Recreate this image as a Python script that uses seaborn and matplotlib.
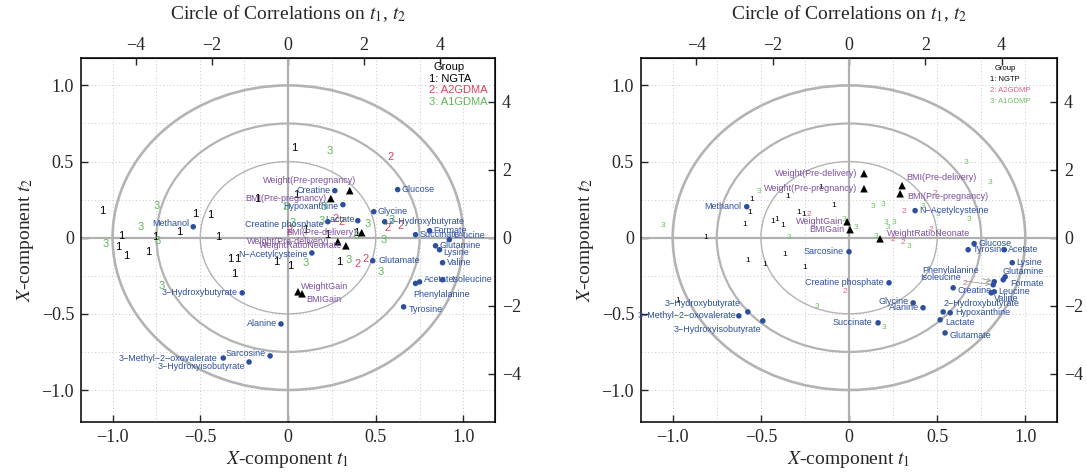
import numpy as np
import pandas as pd
import matplotlib
matplotlib.use("Agg")
import matplotlib.pyplot as plt
from matplotlib.patches import Circle
import seaborn as sns

# ---------------- data : left panel (GDMA) ----------------
left_met_names = ["Methanol", "Creatine phosphate", "Creatine", "Hypoxanthine", "Glucose", "Glycine",
                  "Lactate", "2\u2212Hydroxybutyrate", "Formate", "Succinate", "Leucine", "Glutamine",
                  "Lysine", "Valine", "Isoleucine", "Acetate", "Phenylalanine", "Tyrosine", "Glutamate",
                  "N\u2212Acetylcysteine", "3\u2212Hydroxybutyrate", "Alanine", "Sarcosine",
                  "3\u2212Methyl\u22122\u2212oxovalerate", "3\u2212Hydroxyisobutyrate"]
left_met_x = [-0.540, 0.227, 0.267, 0.313, 0.625, 0.489, 0.398, 0.551, 0.807, 0.727, 0.920, 0.841,
              0.864, 0.881, 0.881, 0.750, 0.727, 0.659, 0.483, 0.136, -0.261, -0.040, -0.102, -0.369, -0.222]
left_met_y = [0.072, 0.105, 0.309, 0.217, 0.316, 0.171, 0.112, 0.105, 0.046, 0.020, -0.013, -0.053,
              -0.079, -0.164, -0.276, -0.290, -0.300, -0.454, -0.151, -0.100, -0.362, -0.566, -0.776,
              -0.790, -0.816]
left_trait_names = ["Weight(Pre-pregnancy)", "BMI(Pre-pregnancy)", "BMI(Pre-delivery)",
                    "Weight(Pre-delivery)", "WeightRatioNeonate", "WeightGain", "BMIGain"]
left_trait_x = [0.352, 0.244, 0.420, 0.284, 0.330, 0.057, 0.080]
left_trait_y = [0.309, 0.257, 0.033, -0.026, -0.053, -0.355, -0.368]
left_g1_x = [-4.89, -2.45, -2.05, -2.87, -4.39, -4.47, -4.26, -3.50, -3.68, -1.84, 0.16, 0.21, -0.32,
             -1.53, -1.34, -1.42, 0.05, 0.45, 1.03, 1.79, 1.34, -0.82]
left_g1_y = [0.80, 0.71, 0.68, 0.18, 0.06, -0.27, -0.53, 0.03, -0.41, 0.03, 2.63, 1.27, -0.71,
             -0.62, -0.62, -1.06, -0.83, 0.24, 0.09, 0.15, -0.71, 1.15]
left_g2_x = [2.71, 0.05, 1.24, 1.42, 2.61, 2.97, 1.82, 2.05]
left_g2_y = [2.36, 0.24, 0.56, 0.47, 0.30, 0.35, -0.77, -0.62]
left_g3_x = [-3.47, -3.89, -4.79, -3.42, -0.05, 0.13, 1.11, 0.95, 0.89, 2.11, 2.74, 1.82, 2.53, 0.47,
             1.61, 2.45, -3.32]
left_g3_y = [0.92, 0.32, -0.18, -0.09, 0.89, 0.44, 2.54, 0.89, 0.50, 0.41, 0.53, 0.06, -0.06, -0.74,
             -0.65, -1.00, -1.42]
left_groups = ["1: NGTA", "2: A2GDMA", "3: A1GDMA"]

# ---------------- data : right panel (GDMP) ----------------
right_met_names = ["Methanol", "3\u2212Hydroxybutyrate", "3\u2212Methyl\u22122\u2212oxovalerate",
                   "3\u2212Hydroxyisobutyrate", "Sarcosine", "Creatine phosphate", "Glycine", "Alanine",
                   "Succinate", "2\u2212Hydroxybutyrate", "Hypoxanthine", "Lactate", "Glutamate",
                   "Creatine", "Leucine", "Valine", "Glutamine", "Formate", "Phenylalanine",
                   "Isoleucine", "Glucose", "Tyrosine", "Acetate", "Lysine", "N\u2212Acetylcysteine"]
right_met_x = [-0.580, -0.574, -0.625, -0.489, 0.000, 0.227, 0.364, 0.420, 0.165, 0.534, 0.574, 0.517,
               0.545, 0.591, 0.824, 0.807, 0.886, 0.875, 0.824, 0.818, 0.710, 0.676, 0.881, 0.926, 0.375]
right_met_y = [0.204, -0.487, -0.513, -0.546, -0.092, -0.296, -0.428, -0.460, -0.559, -0.487, -0.493,
               -0.539, -0.625, -0.329, -0.355, -0.362, -0.257, -0.276, -0.289, -0.309, -0.039, -0.079,
               -0.079, -0.164, 0.178]
right_trait_names = ["Weight(Pre-delivery)", "Weight(Pre-pregnancy)", "BMI(Pre-delivery)",
                     "BMI(Pre-pregnancy)", "WeightGain", "BMIGain", "WeightRatioNeonate"]
right_trait_x = [0.085, 0.085, 0.301, 0.290, -0.011, 0.006, 0.176]
right_trait_y = [0.421, 0.322, 0.342, 0.289, 0.105, 0.053, -0.007]
right_g1_x = [-2.56, -2.59, -2.74, -3.75, -1.61, -2.01, -1.90, -1.74, -1.32, -1.19, -0.40, -0.74,
              -2.66, -2.22, -1.69, -1.16, -4.49]
right_g1_y = [1.12, 0.74, 0.38, 0.00, 1.21, 0.47, 0.53, 0.35, 0.74, 0.68, 0.94, 1.47, -0.68, -0.80,
              -0.50, -0.88, -1.86]
right_g2_x = [-1.06, -0.11, 1.45, 1.16, 1.40, 2.14, 2.24, 3.03]
right_g2_y = [0.68, -1.59, 0.77, -0.06, -0.15, 0.24, 1.30, -1.36]
right_g3_x = [-4.88, -2.35, -1.56, -0.84, 3.06, 3.69, 0.63, 0.90, 1.95, 2.32, 3.14, 0.98, 1.19, 1.03,
              -0.13, 0.18, 0.71, 1.56, 2.35, 0.92]
right_g3_y = [0.35, 1.36, 0.00, -2.01, 2.21, 1.62, 0.91, 0.97, 0.91, 0.68, 0.53, 0.44, 0.44, 0.29,
              0.53, 0.29, 0.03, -0.27, 0.15, -2.63]
right_groups = ["1: NGTP", "2: A2GDMP", "3: A1GDMP"]

x_ticks = [-1.0, -0.5, 0, 0.5, 1.0]
y_ticks = [-1.0, -0.5, 0, 0.5, 1.0]
t_ticks = [-4, -2, 0, 2, 4]
circle_radii = [1.0, 0.75, 0.5]

# ---------------- style ----------------
KX, KY = 4.62, 4.48   # score units per correlation unit
BLUE, PURPLE = "#2c4f9e", "#7b4e9f"
SANS = "Liberation Sans"

left_met_off = {
    "Methanol": (-3, 2, "right"), "Creatine phosphate": (-3, -2, "right"), "Creatine": (-3, 0, "right"),
    "Hypoxanthine": (-3, -1, "right"), "Lactate": (-2, 1, "right"), "Leucine": (3, 3, "left"),
    "Lysine": (3, -2, "left"), "Isoleucine": (6, 0, "left"), "Acetate": (3, 2, "left"),
    "Phenylalanine": (-2, -8, "left"), "Tyrosine": (4, -2, "left"), "Glutamate": (4, 0, "left"),
    "N\u2212Acetylcysteine": (-3, -1, "right"), "3\u2212Hydroxybutyrate": (-3, 0, "right"),
    "Alanine": (-3, 0, "right"), "Sarcosine": (-3, 2, "right"),
    "3\u2212Methyl\u22122\u2212oxovalerate": (-4, 0, "right"), "3\u2212Hydroxyisobutyrate": (-3, -3, "right"),
}
left_trait_off = {
    "Weight(Pre-pregnancy)": (5, 7, "right"), "BMI(Pre-pregnancy)": (-3, 0, "right"),
    "BMI(Pre-delivery)": (-4, 0, "right"), "Weight(Pre-delivery)": (-6, 0, "right"),
    "WeightRatioNeonate": (-3, 0, "right"), "WeightGain": (2, 4, "left"), "BMIGain": (3, -4, "left"),
}
right_met_off = {
    "Methanol": (-4, 0, "right"), "3\u2212Hydroxybutyrate": (-5, 6, "right"),
    "3\u2212Methyl\u22122\u2212oxovalerate": (-2, 0, "right"), "3\u2212Hydroxyisobutyrate": (-1, -6, "right"),
    "Sarcosine": (-4, 0, "right"), "Creatine phosphate": (-4, 0, "right"), "Glycine": (-3, 1, "right"),
    "Alanine": (-3, 0, "right"), "Succinate": (-4, 0, "right"), "2\u2212Hydroxybutyrate": (0, 6, "left"),
    "Hypoxanthine": (4, 0, "left"), "Lactate": (4, -2, "left"), "Glutamate": (3, -2, "left"),
    "Creatine": (3, -2, "left"), "Leucine": (3, 0, "left"), "Valine": (2, -4, "left"),
    "Glutamine": (-2, 4, "left"), "Formate": (5, -3, "left"),
}
right_arrow_off = {"Phenylalanine": (-11, 8), "Isoleucine": (-23, 5)}
right_trait_off = {
    "Weight(Pre-delivery)": (-5, 0, "right"), "Weight(Pre-pregnancy)": (-5, 0, "right"),
    "BMI(Pre-delivery)": (3, 6, "left"), "BMI(Pre-pregnancy)": (5, -2, "left"),
    "WeightGain": (-3, 0, "right"), "BMIGain": (-4, 0, "right"), "WeightRatioNeonate": (5, 4, "left"),
}

sns.set_style("ticks")
plt.rcParams["font.family"] = ["Liberation Serif", "DejaVu Serif"]
plt.rcParams["mathtext.fontset"] = "stix"
plt.rcParams["axes.unicode_minus"] = True

fig = plt.figure(figsize=(10.87, 4.75), dpi=100)


def fmt(v):
    return "0" if v == 0 else ("%.1f" % v).replace("-", "\u2212")


def draw_panel(rect, met_n, met_x, met_y, met_off, tr_n, tr_x, tr_y, tr_off,
               groups_xy, group_names, colors, num_fs, leg_fs, leg_x, leg_y, leg_dy, arrow_off=None):
    ax = fig.add_axes(rect)
    ax.set_xlim(-1.18, 1.18)
    ax.set_ylim(-1.21, 1.18)
    # grid
    ax.set_xticks(np.arange(-1.0, 1.01, 0.25), minor=True)
    ax.set_yticks(np.arange(-1.0, 1.01, 0.25), minor=True)
    ax.grid(True, which="both", ls=(0, (1, 2.5)), color="#c8c8c8", lw=0.7)
    ax.set_axisbelow(True)
    ax.axhline(0, color="#b0b0b0", lw=1.6, zorder=1)
    ax.axvline(0, color="#b0b0b0", lw=1.6, zorder=1)
    for r, lw in zip(circle_radii, [1.9, 1.6, 1.0]):
        ax.add_patch(Circle((0, 0), r, fill=False, ec="#b3b3b3", lw=lw, zorder=1))

    # sample numbers
    for (gx, gy), col, lab in zip(groups_xy, colors, ["1", "2", "3"]):
        for sx, sy in zip(gx, gy):
            ax.text(sx / KX, sy / KY, lab, color=col, fontsize=num_fs, ha="center", va="center",
                    family=SANS, zorder=3)

    # metabolites
    dfm = pd.DataFrame({"x": met_x, "y": met_y, "name": met_n})
    sns.scatterplot(data=dfm, x="x", y="y", ax=ax, color=BLUE, s=16, edgecolor="none", zorder=4,
                    legend=False)
    for n, x, y in zip(met_n, met_x, met_y):
        if arrow_off and n in arrow_off:
            dx, dy = arrow_off[n]
            ax.annotate(n, (x, y), xytext=(dx, dy), textcoords="offset points", ha="right",
                        va="center", fontsize=6.5, color=BLUE, family=SANS, zorder=5,
                        arrowprops=dict(arrowstyle="->", color="#999999", lw=0.6,
                                        shrinkA=1, shrinkB=2))
            continue
        dx, dy, ha = met_off.get(n, (3, 0, "left"))
        ax.annotate(n, (x, y), xytext=(dx, dy), textcoords="offset points", ha=ha, va="center",
                    fontsize=6.5, color=BLUE, family=SANS, zorder=5)

    # traits
    dft = pd.DataFrame({"x": tr_x, "y": tr_y})
    sns.scatterplot(data=dft, x="x", y="y", ax=ax, color="black", marker="^", s=30,
                    edgecolor="none", zorder=4, legend=False)
    for n, x, y in zip(tr_n, tr_x, tr_y):
        dx, dy, ha = tr_off.get(n, (3, 0, "left"))
        ax.annotate(n, (x, y), xytext=(dx, dy), textcoords="offset points", ha=ha, va="center",
                    fontsize=6.5, color=PURPLE, family=SANS, zorder=5)

    # legend as text
    ax.text(leg_x + 0.012, leg_y, "Group", transform=ax.transAxes, fontsize=leg_fs, family=SANS,
            color="black", va="center", ha="left", zorder=6)
    for i, (g, col) in enumerate(zip(group_names, colors)):
        ax.text(leg_x, leg_y - leg_dy * (i + 1), g, transform=ax.transAxes, fontsize=leg_fs,
                family=SANS, color=col, va="center", ha="left", zorder=6, clip_on=False)

    # axes cosmetics
    ax.set_xticks(x_ticks)
    ax.set_yticks(y_ticks)
    ax.set_xticklabels([fmt(v) for v in x_ticks])
    ax.set_yticklabels([fmt(v) for v in y_ticks])
    ax.tick_params(which="major", direction="in", length=5, width=1, labelsize=13, pad=5)
    ax.tick_params(which="minor", length=0)
    ax.set_xlabel("$X$-component $t_1$", fontsize=14, labelpad=2)
    ax.set_ylabel("$X$-component $t_2$", fontsize=14, labelpad=4)
    for sp in ax.spines.values():
        sp.set_visible(True)
        sp.set_linewidth(1.1)
        sp.set_color("black")

    top = ax.secondary_xaxis("top", functions=(lambda v: v * KX, lambda v: v / KX))
    top.set_xticks(t_ticks)
    top.set_xticklabels([str(v).replace("-", "\u2212") for v in t_ticks])
    top.tick_params(direction="in", length=5, width=1, labelsize=13, pad=3)
    right = ax.secondary_yaxis("right", functions=(lambda v: v * KY, lambda v: v / KY))
    right.set_yticks(t_ticks)
    right.set_yticklabels([str(v).replace("-", "\u2212") for v in t_ticks])
    right.tick_params(direction="in", length=5, width=1, labelsize=13, pad=5)

    cx = rect[0] + rect[2] / 2
    fig.text(cx, 0.972, "Circle of Correlations on $t_1$, $t_2$", ha="center", va="center",
             fontsize=14)
    return ax


ax1 = draw_panel([81 / 1087, 1 - 422 / 475, 414 / 1087, 364 / 475],
                 left_met_names, left_met_x, left_met_y, left_met_off,
                 left_trait_names, left_trait_x, left_trait_y, left_trait_off,
                 [(left_g1_x, left_g1_y), (left_g2_x, left_g2_y), (left_g3_x, left_g3_y)],
                 left_groups, ["black", "#d8435c", "#5fb65a"], 8, 8,
                 0.84, 0.975, 0.032)
ax2 = draw_panel([641 / 1087, 1 - 422 / 475, 416 / 1087, 364 / 475],
                 right_met_names, right_met_x, right_met_y, right_met_off,
                 right_trait_names, right_trait_x, right_trait_y, right_trait_off,
                 [(right_g1_x, right_g1_y), (right_g2_x, right_g2_y), (right_g3_x, right_g3_y)],
                 right_groups, ["black", "#e0607a", "#6cc060"], 6, 5.5,
                 0.839, 0.97, 0.03, arrow_off=right_arrow_off)

fig.savefig("out.png", dpi=100)
